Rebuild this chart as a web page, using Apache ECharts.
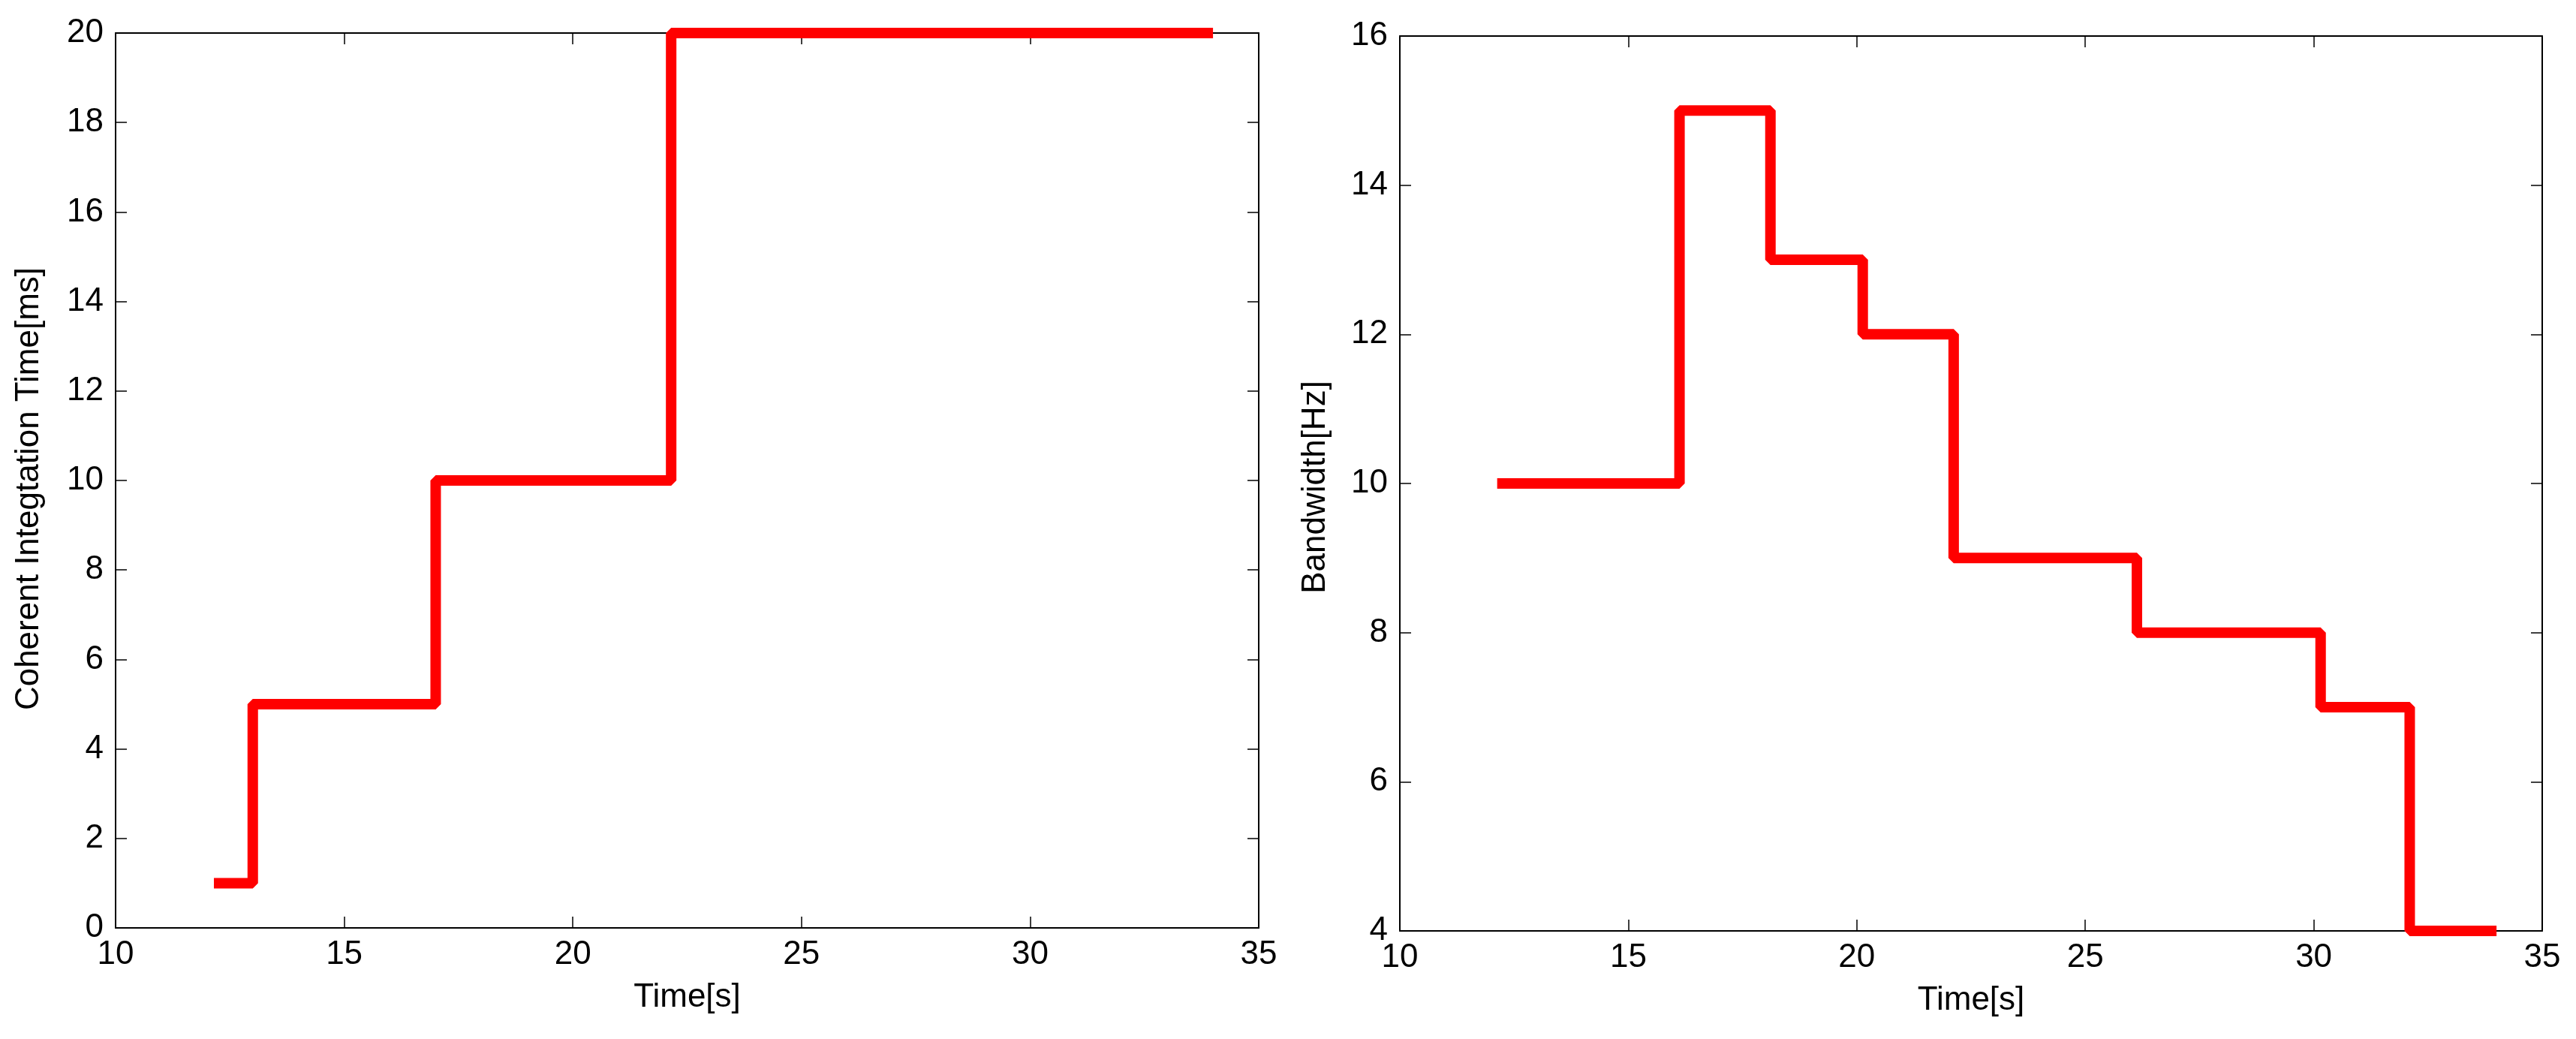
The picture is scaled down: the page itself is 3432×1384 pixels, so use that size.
<!DOCTYPE html>
<html>
<head>
<meta charset="utf-8">
<title>Integration time and bandwidth</title>
<script src="https://cdn.jsdelivr.net/npm/echarts@6/dist/echarts.min.js"></script>
<style>
  html, body { margin: 0; padding: 0; background: #fff; }
  #chart { width: 3432px; height: 1384px; }
</style>
</head>
<body>
<div id="chart"></div>
<script>
// left panel: coherent integration time steps
const timeLeft = [12.15, 13.0, 17.0, 22.15, 34.0]
const integTime = [1, 5, 10, 20, 20]

// right panel: bandwidth steps
const timeRight = [12.13, 16.12, 18.11, 20.13, 22.12, 26.13, 30.15, 32.1, 34.0]
const bandwidth = [10, 15, 13, 12, 9, 8, 7, 4, 4]

const xTicks = { min: 10, max: 35, interval: 5 }
const yTicksLeft = { min: 0, max: 20, interval: 2 }
const yTicksRight = { min: 4, max: 16, interval: 2 }

const FONT = 'Liberation Sans, Arial, sans-serif'
const FS = 44

function pairs(xs, ys) {
  return xs.map((x, i) => [x, ys[i]])
}

function axisBase(range, extra) {
  return Object.assign({
    type: 'value',
    min: range.min,
    max: range.max,
    interval: range.interval,
    axisLine: { show: true, onZero: false, lineStyle: { color: '#000', width: 2 } },
    axisTick: { show: true, inside: true, length: 15, lineStyle: { color: '#000', width: 1.5 } },
    splitLine: { show: false },
    axisLabel: { color: '#000', fontFamily: FONT, fontSize: FS },
    nameTextStyle: { color: '#000', fontFamily: FONT, fontSize: FS }
  }, extra)
}

const grids = [
  { left: 154, top: 44, width: 1523, height: 1192 },
  { left: 1865, top: 48, width: 1522, height: 1192 }
]

const chart = echarts.init(document.getElementById('chart'), null, { renderer: 'canvas' })

chart.setOption({
  animation: false,
  backgroundColor: '#fff',
  grid: grids,
  xAxis: [
    axisBase(xTicks, { gridIndex: 0, position: 'bottom', name: 'Time[s]', nameLocation: 'middle', nameGap: 71,
      axisLabel: { color: '#000', fontFamily: FONT, fontSize: FS, margin: 14 } }),
    axisBase(xTicks, { gridIndex: 0, position: 'top', axisLabel: { show: false } }),
    axisBase(xTicks, { gridIndex: 1, position: 'bottom', name: 'Time[s]', nameLocation: 'middle', nameGap: 71,
      axisLabel: { color: '#000', fontFamily: FONT, fontSize: FS, margin: 14 } }),
    axisBase(xTicks, { gridIndex: 1, position: 'top', axisLabel: { show: false } })
  ],
  yAxis: [
    axisBase(yTicksLeft, { gridIndex: 0, position: 'left', name: 'Coherent Integtation Time[ms]', nameLocation: 'middle', nameGap: 93,
      nameTextStyle: { color: '#000', fontFamily: FONT, fontSize: FS, padding: [0, 22, 0, 0] },
      axisLabel: { color: '#000', fontFamily: FONT, fontSize: FS, margin: 16 } }),
    axisBase(yTicksLeft, { gridIndex: 0, position: 'right', axisLabel: { show: false } }),
    axisBase(yTicksRight, { gridIndex: 1, position: 'left', name: 'Bandwidth[Hz]', nameLocation: 'middle', nameGap: 90,
      nameTextStyle: { color: '#000', fontFamily: FONT, fontSize: FS, padding: [0, 10, 0, 0] },
      axisLabel: { color: '#000', fontFamily: FONT, fontSize: FS, margin: 16 } }),
    axisBase(yTicksRight, { gridIndex: 1, position: 'right', axisLabel: { show: false } })
  ],
  series: [
    {
      type: 'line',
      xAxisIndex: 0,
      yAxisIndex: 0,
      data: pairs(timeLeft, integTime),
      step: 'end',
      symbol: 'none',
      clip: true,
      lineStyle: { color: '#ff0000', width: 14 }
    },
    {
      type: 'line',
      xAxisIndex: 2,
      yAxisIndex: 2,
      data: pairs(timeRight, bandwidth),
      step: 'end',
      symbol: 'none',
      clip: false,
      lineStyle: { color: '#ff0000', width: 14 }
    }
  ]
})
</script>
</body>
</html>
